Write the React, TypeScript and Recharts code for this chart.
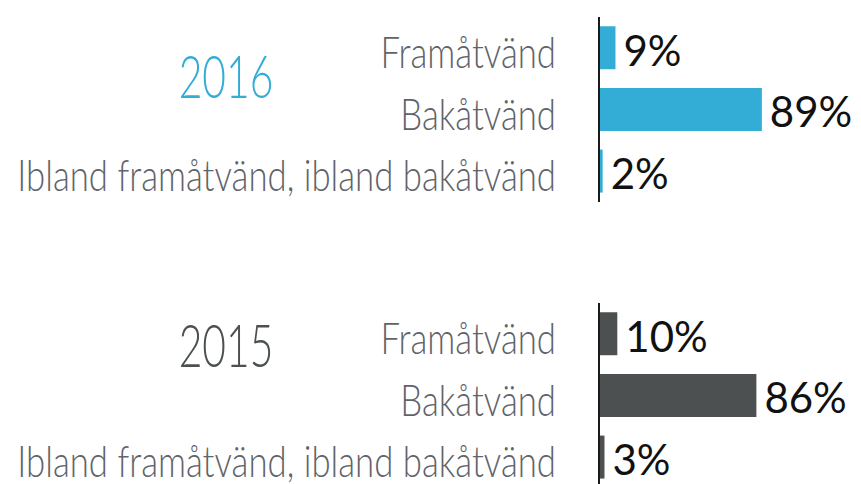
import React from 'react';
import { BarChart, Bar, XAxis, YAxis, LabelList } from 'recharts';

const categories = ['Framåtvänd', 'Bakåtvänd', 'Ibland framåtvänd, ibland bakåtvänd'];
const values2016 = [9, 89, 2];
const values2015 = [10, 86, 3];
const yearLabels = ['2016', '2015'];

const COLOR_2016 = '#34add6';
const COLOR_2015 = '#4c5051';
const CAT_FONT = "Lato, 'Open Sans', sans-serif";
const CAT_SCALE = 0.79;
const YEAR_SCALE = 0.68;

const toRows = (vals: number[]) => categories.map((c, i) => ({ category: c, value: vals[i] }));

const CatTick = (props: any) => {
  const { x, y, payload } = props;
  return (
    <g transform={`translate(${x},${y})`}>
      <text
        transform={`scale(${CAT_SCALE},1)`}
        x={0}
        y={0}
        dy={20}
        textAnchor="end"
        fill="#5f636a"
        fontSize={44}
        fontWeight={300}
        fontFamily={CAT_FONT}
      >
        {payload.value}
      </text>
    </g>
  );
};

const ValueLabel = (props: any) => {
  const { x, y, width, height, value } = props;
  return (
    <text
      x={Number(x) + Number(width) + 8}
      y={Number(y) + Number(height) / 2}
      dy={18}
      fontSize={42}
      fontFamily="Lato, sans-serif"
      fill="#111"
    >
      {value}%
    </text>
  );
};

const Group = ({ vals, color, year, top, yearY }: { vals: number[]; color: string; year: string; top: number; yearY: number }) => (
  <div style={{ position: 'absolute', left: 0, top, width: 861, height: 220 }}>
    <svg width={861} height={220} style={{ position: 'absolute', left: 0, top: 0 }}>
      <g transform={`translate(226,${yearY})`}>
        <text
          transform={`scale(${YEAR_SCALE},1)`}
          x={0}
          y={0}
          textAnchor="middle"
          fontSize={60}
          fontWeight={300}
          fontFamily={CAT_FONT}
          fill={color}
        >
          {year}
        </text>
      </g>
    </svg>
    <div style={{ position: 'absolute', left: 0, top: 0 }}>
      <BarChart
        width={861}
        height={220}
        data={toRows(vals)}
        layout="vertical"
        margin={{ top: 17, right: 79, bottom: 18, left: 0 }}
        barCategoryGap="15%"
      >
        <XAxis type="number" domain={[0, 100]} hide />
        <YAxis
          type="category"
          dataKey="category"
          width={599}
          axisLine={{ stroke: '#1a1a1a', strokeWidth: 2 }}
          tickLine={false}
          tickSize={0}
          tickMargin={43}
          tick={<CatTick />}
          interval={0}
        />
        <Bar dataKey="value" fill={color} isAnimationActive={false}>
          <LabelList dataKey="value" content={<ValueLabel />} />
        </Bar>
      </BarChart>
    </div>
  </div>
);

export default function App() {
  return (
    <div style={{ position: 'absolute', left: 0, top: 0, width: 861, height: 484, overflow: 'hidden', background: '#fff' }}>
      <Group vals={values2016} color={COLOR_2016} year={yearLabels[0]} top={0} yearY={98} />
      <Group vals={values2015} color={COLOR_2015} year={yearLabels[1]} top={286} yearY={81} />
    </div>
  );
}
